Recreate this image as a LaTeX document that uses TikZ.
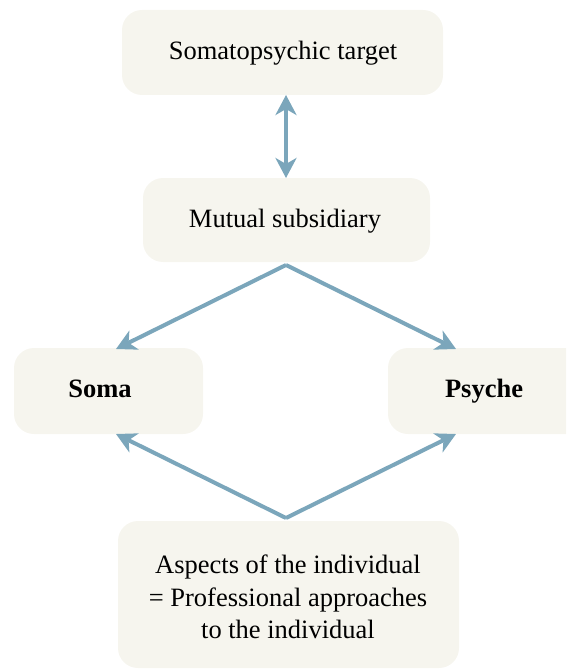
\documentclass[tikz,border=0pt]{standalone}
\usepackage{fontspec}
\setmainfont{Liberation Serif}
\usetikzlibrary{arrows.meta}
\definecolor{boxfill}{HTML}{F6F5EE}
\definecolor{arrowblue}{HTML}{7BA6BB}
\tikzset{
  panel/.style={fill=boxfill, draw=none, rounded corners=20pt},
  label/.style={font=\fontsize{26.5}{30}\selectfont, align=center, text=black,
    text height=0.68em, text depth=0.22em, inner sep=0pt},
  boldlabel/.style={label, font=\fontsize{26.5}{30}\selectfont\bfseries},
  link/.style={draw=arrowblue, line width=4pt, -{Stealth[length=20pt, width=21pt, inset=6pt]}},
}
\begin{document}
\begin{tikzpicture}[x=1pt,y=-1pt]
  \useasboundingbox (0,0) rectangle (566,671);
  \clip (0,0) rectangle (566,671);
  % boxes
  \fill[panel] (122,10) rectangle (443,95);
  \fill[panel] (143,178) rectangle (430,262);
  \fill[panel] (14,348) rectangle (203,434);
  \fill[panel] (388,348) rectangle (600,434);
  \fill[panel] (118,521) rectangle (459,668);
  % labels
  \node[label] (target) at (283,57) {Somatopsychic target};
  \node[label] (mutual) at (285,225) {Mutual subsidiary};
  \node[boldlabel] (soma) at (100,395) {Soma};
  \node[boldlabel] (psyche) at (484,395) {Psyche};
  \node[font=\fontsize{26.5}{32.5}\selectfont, align=center] (aspects) at (288,597) {Aspects of the individual\\= Professional approaches\\to the individual};
  % connector end points
  \coordinate (tUp) at (286,95);
  \coordinate (tDown) at (286,178);
  \coordinate (mApex) at (286,265);
  \coordinate (bApex) at (286,518);
  \coordinate (sTop) at (116,349);
  \coordinate (pTop) at (456,349);
  \coordinate (sBot) at (116,434);
  \coordinate (pBot) at (456,434);
  % connectors
  \draw[link, {Stealth[length=20pt, width=21pt, inset=6pt]}-{Stealth[length=20pt, width=21pt, inset=6pt]}] (tUp) -- (tDown);
  \draw[link] (mApex) -- (sTop);
  \draw[link] (mApex) -- (pTop);
  \draw[link] (bApex) -- (sBot);
  \draw[link] (bApex) -- (pBot);
\end{tikzpicture}
\end{document}
